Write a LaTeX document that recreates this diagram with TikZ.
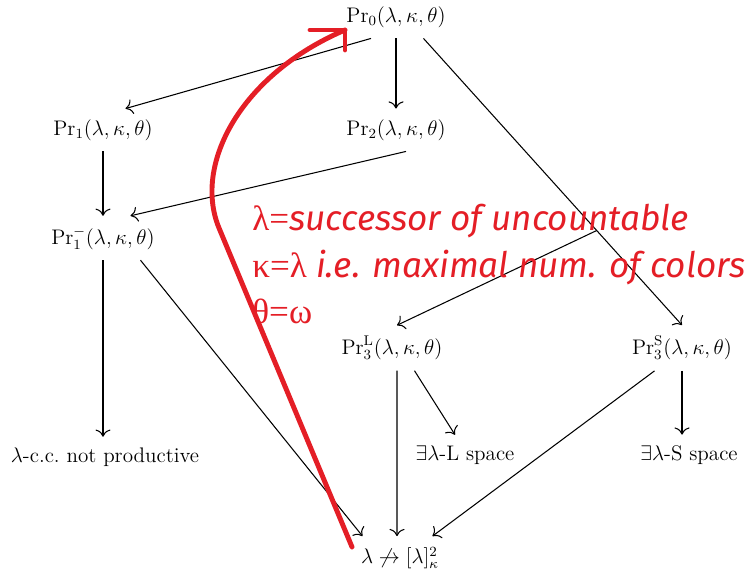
\documentclass[tikz,border=0pt]{standalone}
\usepackage{amsmath,amssymb}
\usepackage{fontspec}
\usepackage{tikz}
\usetikzlibrary{positioning, calc, arrows.meta}
\newfontfamily\handfont{Fira Sans}
\newfontfamily\grkfont{Liberation Serif}
\definecolor{markred}{RGB}{228, 30, 38}

\begin{document}
\begin{tikzpicture}[
    x=0.02cm, y=-0.02cm,
    stmt/.style={font=\large, inner sep=6pt},
    arrow/.style={->, >={To[scale=1.4]}, line width=0.6pt},
    redpen/.style={draw=markred, line width=2.8pt, line cap=round, line join=round},
    note/.style={font=\handfont\itshape\fontsize{20}{26.6}\selectfont, text=markred, align=left, inner sep=0pt}
]
    \useasboundingbox (0,0) rectangle (750,577);

    \node[stmt] (pr0) at (396,17) {$\mathrm{Pr}_0(\lambda,\kappa,\theta)$};
    \node[stmt] (pr1) at (103,130) {$\mathrm{Pr}_1(\lambda,\kappa,\theta)$};
    \node[stmt] (pr2) at (396,130) {$\mathrm{Pr}_2(\lambda,\kappa,\theta)$};
    \node[stmt] (pr1m) at (103,238) {$\mathrm{Pr}_1^-(\lambda,\kappa,\theta)$};
    \node[stmt] (pr3l) at (392,348) {$\mathrm{Pr}_3^{\mathrm{L}}(\lambda,\kappa,\theta)$};
    \node[stmt] (pr3s) at (682,348) {$\mathrm{Pr}_3^{\mathrm{S}}(\lambda,\kappa,\theta)$};
    \node[stmt] (ccc) at (105,457) {$\lambda$-c.c.\ not productive};
    \node[stmt] (lsp) at (465,455) {$\exists\lambda$-L space};
    \node[stmt] (ssp) at (689,455) {$\exists\lambda$-S space};
    \node[stmt] (ram) at (400,558) {$\lambda\not\to[\lambda]^2_\kappa$};

    \draw[arrow] ([xshift=-0.5cm]pr0.south) -- ([xshift=0.45cm]pr1.north);
    \draw[arrow] (pr0) -- (pr2);
    \draw[arrow] ([xshift=0.55cm]pr0.south) -- coordinate[pos=0.67] (split) (pr3s.north);
    \draw[arrow] (pr1) -- (pr1m);
    \draw[arrow] ([xshift=0.2cm]pr2.south) -- ([xshift=0.55cm]pr1m.north);
    \draw[arrow] (pr1m.south) -- (pr1m.south |- ccc.north);
    \draw[arrow] ([xshift=0.75cm]pr1m.south) -- ([xshift=-0.75cm]ram.north);
    \draw[arrow] (split) -- ([xshift=0.1cm]pr3l.north);
    \draw[arrow] ([xshift=0.1cm]pr3l.south) -- ([xshift=-0.06cm]ram.north);
    \draw[arrow] ([xshift=0.45cm]pr3l.south) -- ([xshift=-0.2cm]lsp.north);
    \draw[arrow] ([xshift=-0.55cm]pr3s.south) -- ([xshift=0.65cm]ram.north);
    \draw[arrow] (pr3s.south) -- (pr3s.south |- ssp.north);

    % hand-drawn remark
    \coordinate (tail) at (352,547);
    \coordinate (tip) at (345,30);
    \draw[redpen] (tail) -- (219,228) .. controls (193,165) and (240,75) .. (tip);
    \draw[redpen] ([xshift=-0.7cm]tip) -- (tip) -- ([yshift=-0.4cm]tip);
    \node[note, anchor=west] (remark) at (252,264)
        {{\grkfont\upshape λ=}successor of uncountable\\
         {\grkfont\upshape κ=λ} i.e. maximal num. of colors\\
         {\grkfont\upshape θ=ω}};
\end{tikzpicture}
\end{document}
